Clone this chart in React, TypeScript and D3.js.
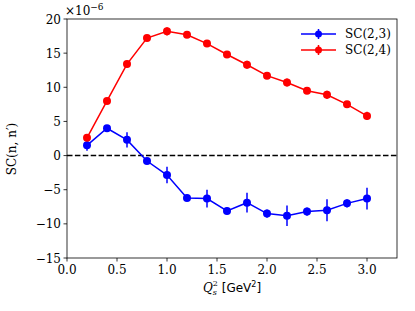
import React from "react";
import * as d3 from "d3";

const xs = [0.2, 0.4, 0.6, 0.8, 1.0, 1.2, 1.4, 1.6, 1.8, 2.0, 2.2, 2.4, 2.6, 2.8, 3.0];
const sc23 = [1.5, 4.0, 2.3, -0.8, -2.85, -6.2, -6.3, -8.1, -6.9, -8.5, -8.8, -8.2, -8.0, -7.0, -6.3];
const sc23Err = [0.8, 0.4, 1.1, 0.4, 1.2, 0.45, 1.3, 0.5, 1.45, 0.6, 1.5, 0.6, 1.6, 0.6, 1.6];
const sc24 = [2.6, 8.0, 13.4, 17.2, 18.2, 17.7, 16.4, 14.8, 13.3, 11.7, 10.7, 9.5, 8.9, 7.5, 5.8];
const sc24Err = [0.4, 0.4, 0.5, 0.4, 0.6, 0.4, 0.5, 0.4, 0.6, 0.4, 0.6, 0.4, 0.6, 0.4, 0.6];
const xTicks = [0.0, 0.5, 1.0, 1.5, 2.0, 2.5, 3.0];
const yTicks = [-15, -10, -5, 0, 5, 10, 15, 20];
const seriesNames = ["SC(2,3)", "SC(2,4)"];
const seriesColors = ["#0000ff", "#ff0000"];

export default function App() {
  const W = 415, H = 311;
  const L = 67, R = 397, T = 19, B = 258;
  const x = d3.scaleLinear().domain([0, 3.3]).range([L, R]);
  const y = d3.scaleLinear().domain([-15, 20]).range([B, T]);
  const line = d3.line<number>().x((_, i) => x(xs[i])).y((d) => y(d));
  const series = [
    { vals: sc23, err: sc23Err },
    { vals: sc24, err: sc24Err },
  ];
  const font = "DejaVu Serif, Liberation Serif, serif";
  const sans = "DejaVu Sans, Liberation Sans, sans-serif";
  return (
    <svg width={W} height={H} style={{ position: "absolute", left: 0, top: 0, background: "#fff" }}>
      <line x1={L} x2={R} y1={y(0)} y2={y(0)} stroke="#000" strokeWidth={1.5} strokeDasharray="5.5,2.4" />
      {series.map((s, si) => (
        <g key={si}>
          <path d={line(s.vals) || ""} fill="none" stroke={seriesColors[si]} strokeWidth={1.5} />
          {s.vals.map((v, i) => (
            <g key={i}>
              <line x1={x(xs[i])} x2={x(xs[i])} y1={y(v - s.err[i])} y2={y(v + s.err[i])} stroke={seriesColors[si]} strokeWidth={1.5} />
              <circle cx={x(xs[i])} cy={y(v)} r={4} fill={seriesColors[si]} />
            </g>
          ))}
        </g>
      ))}
      <rect x={L} y={T} width={R - L} height={B - T} fill="none" stroke="#000" strokeWidth={0.8} />
      {xTicks.map((t) => (
        <g key={t}>
          <line x1={x(t)} x2={x(t)} y1={B} y2={B + 3.5} stroke="#000" strokeWidth={0.8} />
          <text x={x(t)} y={B + 16} textAnchor="middle" fontFamily={font} fontSize={12}>{t.toFixed(1)}</text>
        </g>
      ))}
      {yTicks.map((t) => (
        <g key={t}>
          <line x1={L - 3.5} x2={L} y1={y(t)} y2={y(t)} stroke="#000" strokeWidth={0.8} />
          <text x={L - 6} y={y(t) + 4.5} textAnchor="end" fontFamily={font} fontSize={12}>{t < 0 ? "\u2212" + Math.abs(t) : String(t)}</text>
        </g>
      ))}
      <text x={L - 2} y={15} fontFamily={font} fontSize={12}>
        ×10<tspan dy={-5} fontSize={9}>−6</tspan>
      </text>
      <text transform={`translate(${16},${149}) rotate(-90)`} textAnchor="middle" fontFamily={font} fontSize={12}>
        SC(n, n′)
      </text>
      <text x={232} y={292} textAnchor="middle" fontSize={12}>
        <tspan fontFamily={font} fontStyle="italic">Q</tspan>
        <tspan fontFamily={font} fontStyle="italic" fontSize={8} dy={3}>s</tspan>
        <tspan fontFamily={font} fontSize={8} dx={-4} dy={-9}>2</tspan>
        <tspan fontFamily={sans} dy={6}> [GeV</tspan>
        <tspan fontFamily={sans} fontSize={8} dy={-5}>2</tspan>
        <tspan fontFamily={sans} dy={5}>]</tspan>
      </text>
      {seriesNames.map((n, i) => (
        <g key={n}>
          <line x1={301} x2={336} y1={34 + i * 16} y2={34 + i * 16} stroke={seriesColors[i]} strokeWidth={1.5} />
          <line x1={318.5} x2={318.5} y1={34 + i * 16 - 5} y2={34 + i * 16 + 5} stroke={seriesColors[i]} strokeWidth={1.5} />
          <circle cx={318.5} cy={34 + i * 16} r={3.5} fill={seriesColors[i]} />
          <text x={345} y={38 + i * 16} fontFamily={font} fontSize={12}>{n}</text>
        </g>
      ))}
    </svg>
  );
}
